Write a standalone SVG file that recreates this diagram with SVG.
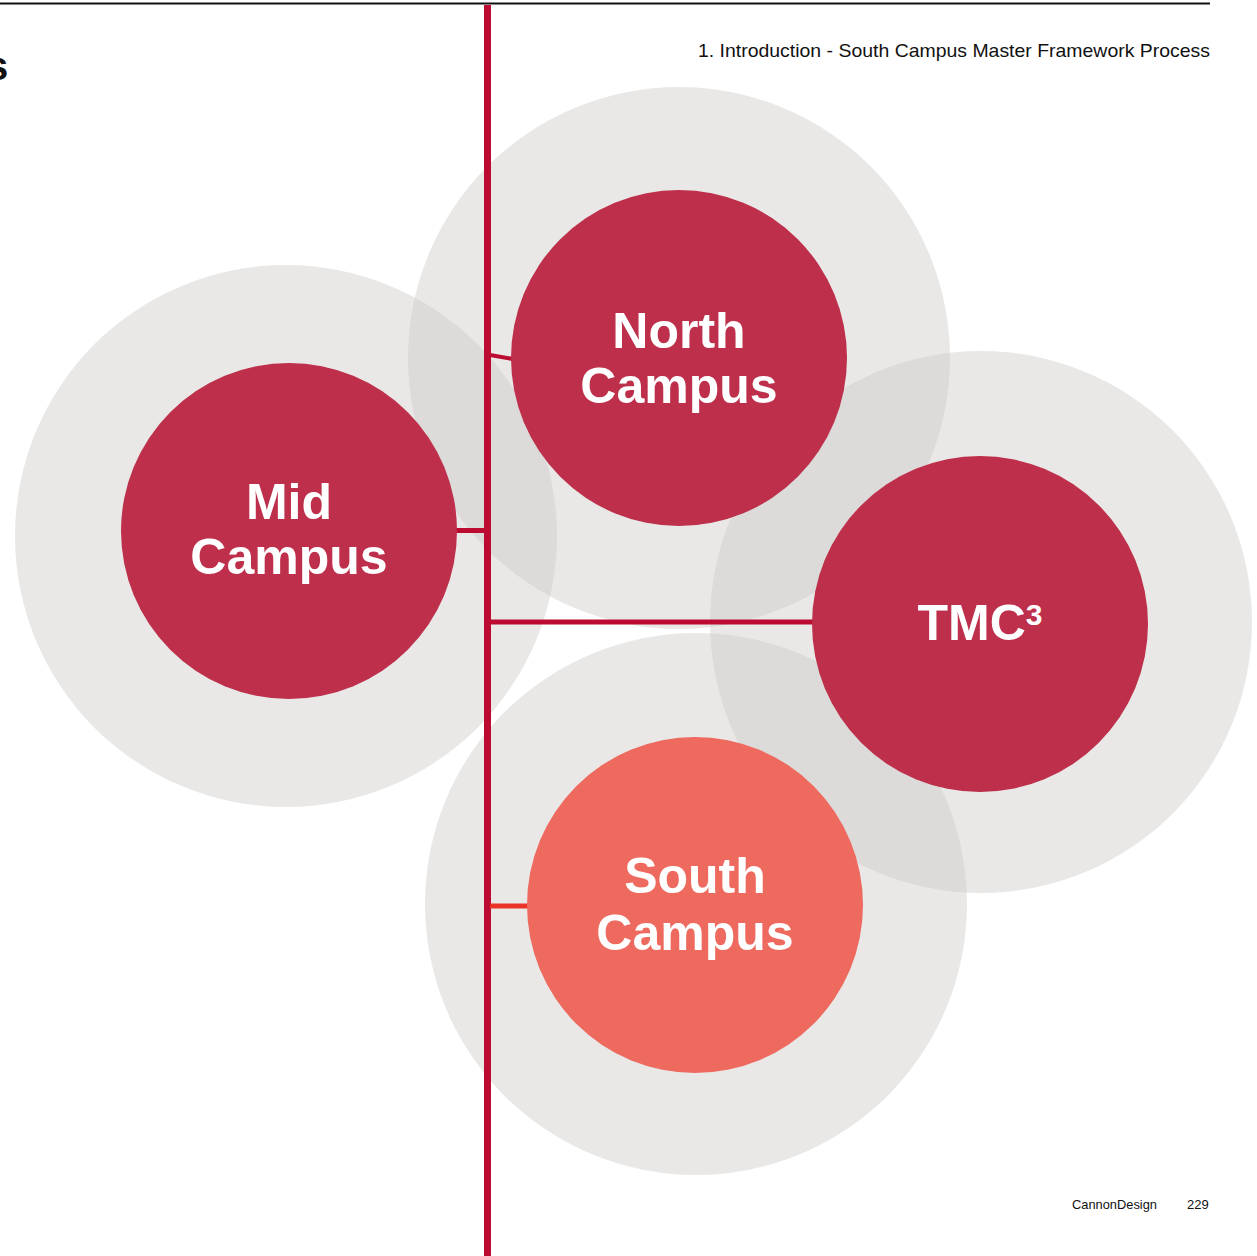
<svg xmlns="http://www.w3.org/2000/svg" width="1257" height="1256" viewBox="0 0 1257 1256">
<style>
.halo{fill:#cfcbca;fill-opacity:0.45}
.core{fill:#bd2f4b}
.south{fill:#ee6a5f}
.lbl{font-family:"Liberation Sans",Arial,sans-serif;font-weight:bold;font-size:50px;fill:#fff;text-anchor:middle}
.link{stroke:#bb0b30;fill:none}
.hdr{font-family:"Liberation Sans",Arial,sans-serif;fill:#111}
</style>
<rect width="1257" height="1256" fill="#fff"/>
<line x1="0" y1="3.5" x2="1210" y2="3.5" stroke="#111" stroke-width="2"/>
<text class="hdr" x="-14" y="80" font-size="40" font-weight="bold">s</text>
<text class="hdr" x="1210" y="57" font-size="19" text-anchor="end" textLength="512" lengthAdjust="spacingAndGlyphs">1. Introduction - South Campus Master Framework Process</text>
<text class="hdr" x="1072" y="1209" font-size="13" textLength="85" lengthAdjust="spacingAndGlyphs">CannonDesign</text>
<text class="hdr" x="1187" y="1209" font-size="13">229</text>

<g id="halos">
<circle class="halo" cx="679" cy="358" r="271"/>
<circle class="halo" cx="286" cy="536" r="271"/>
<circle class="halo" cx="981" cy="622" r="271"/>
<circle class="halo" cx="696" cy="904" r="271"/>
</g>

<g id="connectors">
<line class="link" x1="487.5" y1="5" x2="487.5" y2="1256" stroke-width="7"/>
<line class="link" x1="490" y1="355" x2="513" y2="359" stroke-width="4"/>
<line class="link" x1="455" y1="530.5" x2="485" y2="530.5" stroke-width="5"/>
<line class="link" x1="490" y1="622" x2="814" y2="622" stroke-width="5"/>
<line x1="490" y1="906" x2="529" y2="906" stroke="#ea3326" stroke-width="5"/>
</g>

<g id="north">
<circle class="core" cx="679" cy="358" r="168"/>
<text class="lbl" x="679" y="348">North</text>
<text class="lbl" x="679" y="403">Campus</text>
</g>
<g id="mid">
<circle class="core" cx="289" cy="531" r="168"/>
<text class="lbl" x="289" y="519">Mid</text>
<text class="lbl" x="289" y="574">Campus</text>
</g>
<g id="tmc">
<circle class="core" cx="980" cy="624" r="168"/>
<text class="lbl" x="980" y="640">TMC<tspan font-size="30" dy="-15">3</tspan></text>
</g>
<g id="south">
<circle class="south" cx="695" cy="905" r="168"/>
<text class="lbl" x="695" y="893">South</text>
<text class="lbl" x="695" y="950">Campus</text>
</g>
</svg>
